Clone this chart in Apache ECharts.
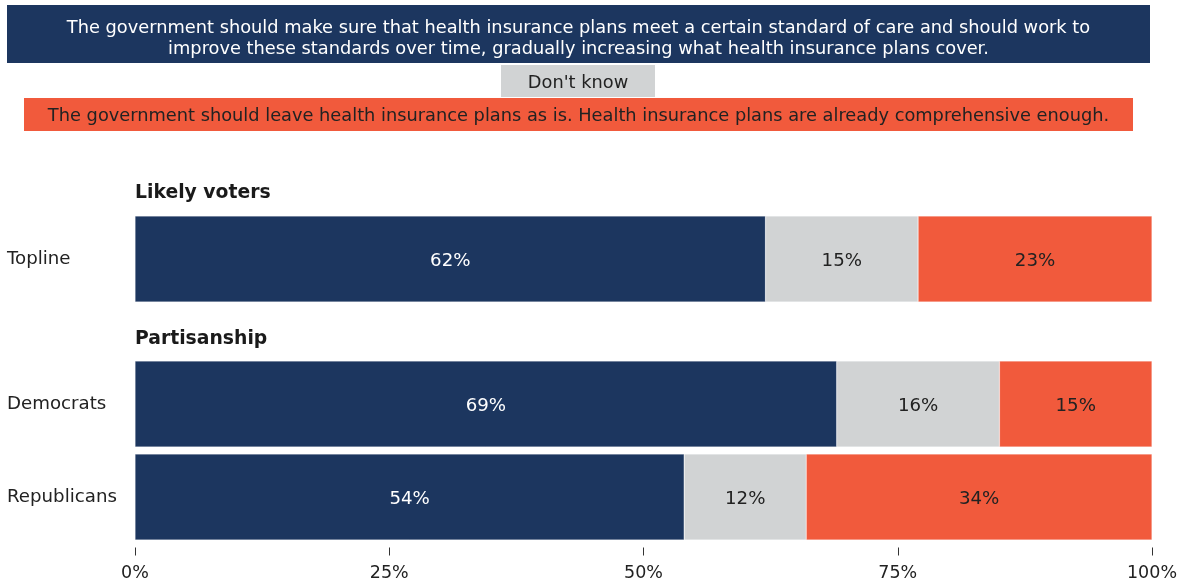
<!DOCTYPE html>
<html>
<head>
<meta charset="utf-8">
<script src="https://cdn.jsdelivr.net/npm/echarts@6/dist/echarts.min.js"></script>
<style>
  html, body { margin: 0; padding: 0; background: #fff; }
  #chart { width: 1182px; height: 581px; }
</style>
</head>
<body>
<div id="chart"></div>
<script>
// Survey responses, in percent
const seriesNames = [
  'The government should make sure that health insurance plans meet a certain standard of care and should work to\nimprove these standards over time, gradually increasing what health insurance plans cover.',
  "Don't know",
  'The government should leave health insurance plans as is. Health insurance plans are already comprehensive enough.'
];
const sectionTitles = ['Likely voters', 'Partisanship'];
const toplineCategories = ['Topline'];
const partyCategories = ['Democrats', 'Republicans'];
const improveValues = [62, 69, 54];
const dontKnowValues = [15, 16, 12];
const leaveValues = [23, 15, 34];
const tickLabels = ['0%', '25%', '50%', '75%', '100%'];

const FONT = '"DejaVu Sans", "Open Sans", sans-serif';
const colors = ['#1c365f', '#d1d3d4', '#f15a3c'];
const labelColors = ['#ffffff', '#222222', '#222222'];
const allValues = [improveValues, dontKnowValues, leaveValues];

const chart = echarts.init(document.getElementById('chart'), null, { renderer: 'canvas' });

const grids = [
  { left: 135, right: 30, top: 212.5, height: 93, outerBoundsMode: 'none', containLabel: false },
  { left: 135, right: 30, top: 357.5, height: 186, outerBoundsMode: 'none', containLabel: false }
];

function makeSeries(gridIdx, from, to) {
  return allValues.map((vals, i) => ({
    type: 'bar',
    name: seriesNames[i],
    stack: 'g' + gridIdx,
    xAxisIndex: gridIdx,
    yAxisIndex: gridIdx,
    barWidth: 86,
    itemStyle: { color: colors[i], borderColor: 'rgba(255,255,255,0.5)', borderWidth: 0.5 },
    label: {
      show: true,
      position: 'inside',
      offset: [0, 2],
      formatter: '{c}%',
      color: labelColors[i],
      fontFamily: FONT,
      fontSize: 18.2
    },
    emphasis: { disabled: true },
    data: vals.slice(from, to)
  }));
}

const xAxisBase = {
  type: 'value',
  min: 0,
  max: 100,
  interval: 25,
  splitLine: { show: false },
  axisLine: { show: false }
};

const yAxisBase = {
  type: 'category',
  inverse: true,
  axisLine: { show: false },
  axisTick: { show: false },
  axisLabel: {
    align: 'left',
    margin: 128,
    padding: [7, 0, 0, 0],
    color: '#222',
    fontFamily: FONT,
    fontSize: 18.2
  }
};

// Legend boxes drawn as coloured bands with the answer text
const legendBoxes = [
  { x: 7, y: 5, w: 1143, h: 58, dy: 5 },
  { x: 501, y: 65, w: 154, h: 32, dy: 2 },
  { x: 24, y: 98, w: 1109, h: 33, dy: 2 }
];
const graphics = [];
legendBoxes.forEach((b, i) => {
  graphics.push({
    type: 'rect',
    left: b.x, top: b.y,
    shape: { width: b.w, height: b.h },
    style: { fill: colors[i] }
  });
  graphics.push({
    type: 'text',
    x: b.x + b.w / 2,
    y: b.y + b.h / 2 + b.dy,
    style: {
      text: seriesNames[i],
      fill: labelColors[i],
      font: '17.8px ' + FONT,
      align: 'center',
      verticalAlign: 'middle',
      lineHeight: 21
    }
  });
});
[[135, 193], [135, 339]].forEach((p, i) => {
  graphics.push({
    type: 'text',
    x: p[0], y: p[1],
    style: {
      text: sectionTitles[i],
      fill: '#1a1a1a',
      font: 'bold 18.8px ' + FONT,
      verticalAlign: 'middle'
    }
  });
});

chart.setOption({
  animation: false,
  backgroundColor: '#ffffff',
  grid: grids,
  xAxis: [
    Object.assign({}, xAxisBase, { gridIndex: 0, axisTick: { show: false }, axisLabel: { show: false } }),
    Object.assign({}, xAxisBase, {
      gridIndex: 1,
      offset: 4,
      axisTick: { show: true, length: 8, lineStyle: { color: '#333', width: 1 } },
      axisLabel: {
        show: true,
        margin: 17,
        color: '#222',
        fontFamily: FONT,
        fontSize: 17.5,
        formatter: v => tickLabels[v / 25]
      }
    })
  ],
  yAxis: [
    Object.assign({}, yAxisBase, { gridIndex: 0, data: toplineCategories }),
    Object.assign({}, yAxisBase, { gridIndex: 1, data: partyCategories })
  ],
  series: makeSeries(0, 0, 1).concat(makeSeries(1, 1, 3)),
  graphic: graphics
});
</script>
</body>
</html>
